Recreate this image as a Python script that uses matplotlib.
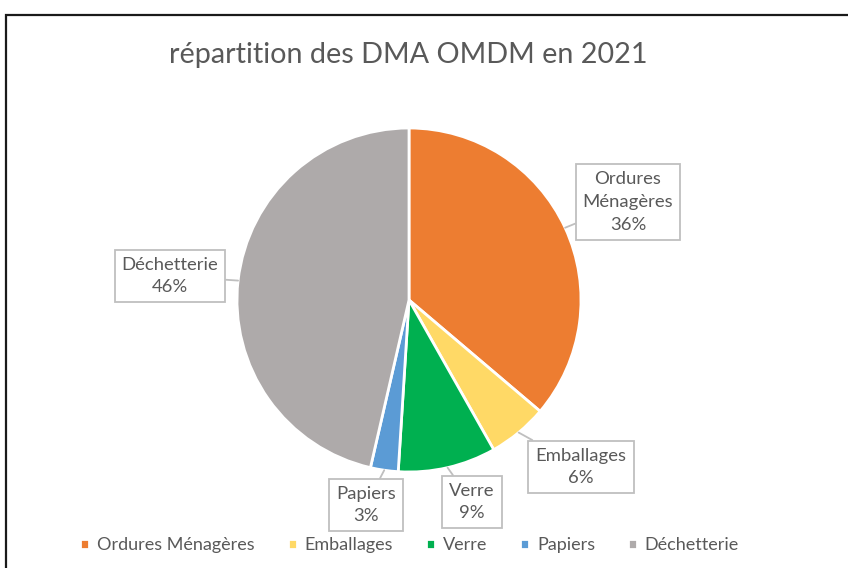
import matplotlib
matplotlib.use("Agg")
import matplotlib.pyplot as plt
import numpy as np
from matplotlib.patches import Rectangle

# data
categories = ["Ordures Ménagères", "Emballages", "Verre", "Papiers", "Déchetterie"]
values = [36.2, 5.6, 9.2, 2.6, 46.4]
colors = ["#ED7D31", "#FFD966", "#00B050", "#5B9BD5", "#AEAAAA"]
title = "répartition des DMA OMDM en 2021"

# callout box centres (pixel coords, y from top)
box_pos = [(628, 202), (581, 467), (472, 502), (366, 505), (170, 276)]

W, H = 848, 568
plt.rcParams["font.family"] = ["Lato", "DejaVu Sans"]
txt_col = "#595959"

fig = plt.figure(figsize=(W / 100, H / 100), dpi=100)
ax = fig.add_axes([0, 0, 1, 1])

center = (409, H - 300)
radius = 172
wedges, _ = ax.pie(values, colors=colors, startangle=90, counterclock=False,
                   center=center, radius=radius,
                   wedgeprops=dict(edgecolor="white", linewidth=2))
ax.set_xlim(0, W)
ax.set_ylim(0, H)
ax.set_aspect("equal")
ax.axis("off")

# callouts
for w, name, v, (bx, by) in zip(wedges, categories, values, box_pos):
    mid = np.deg2rad((w.theta1 + w.theta2) / 2)
    px = center[0] + radius * np.cos(mid)
    py = center[1] + radius * np.sin(mid)
    label = name.replace(" ", "\n") + "\n" + f"{v:.0f}%"
    ax.annotate(label, xy=(px, py), xytext=(bx, H - by),
                ha="center", va="center", fontsize=13.3, color=txt_col,
                linespacing=1.5,
                bbox=dict(boxstyle="square,pad=0.38", fc="white", ec="#BFBFBF", lw=1.3),
                arrowprops=dict(arrowstyle="-", color="#BFBFBF", lw=1.3,
                                shrinkA=0, shrinkB=0))

ax.text(W / 2 - 16, H - 55, title, ha="center", va="center",
        fontsize=20.7, color=txt_col)

ax.legend(wedges, categories, loc="center", bbox_to_anchor=(0.483, 0.04),
          ncol=5, frameon=False, fontsize=13, labelcolor=txt_col,
          handlelength=0.5, handleheight=0.5, handletextpad=0.45,
          columnspacing=1.8)

# chart border (cut off at right and bottom like the screenshot)
ax.add_patch(Rectangle((6, -20), W + 20, H - 15 + 20, fill=False,
                       edgecolor="#1a1a1a", lw=1.6, clip_on=False))

fig.savefig("out.png", dpi=100, facecolor="white")
